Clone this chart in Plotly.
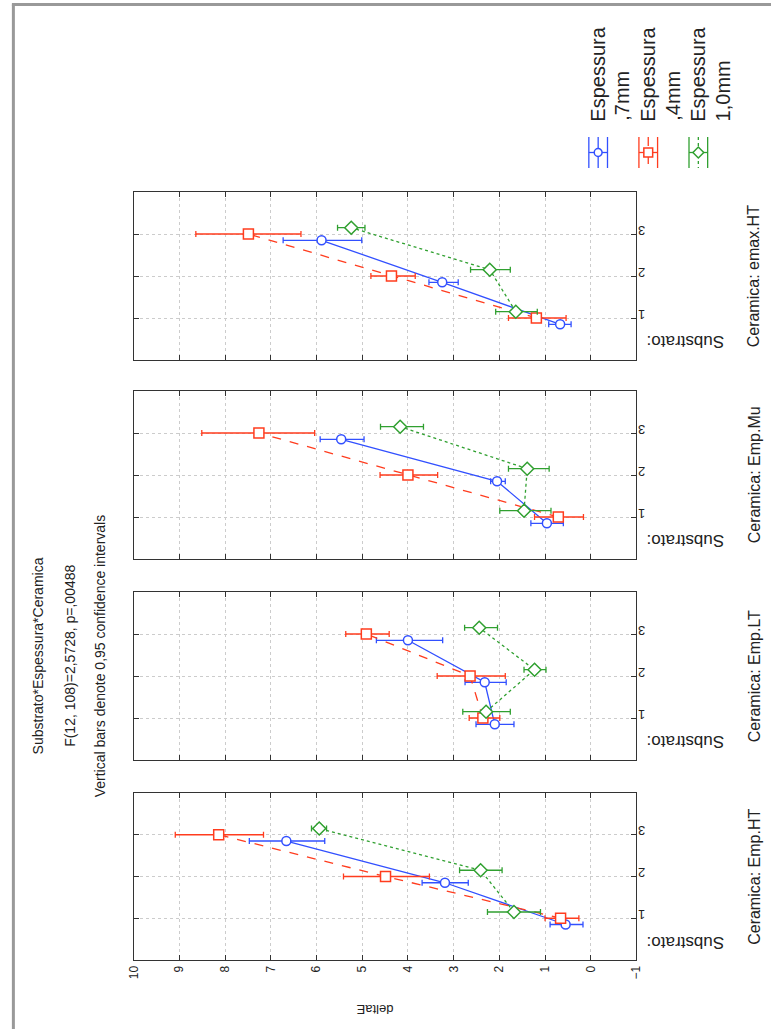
import plotly.graph_objects as go

W, H = 778, 1029


def px(x):
    return x / W


def py(y):
    return 1 - y / H


# ---------------- data ----------------
ceramicas = ["emax.HT", "Emp.Mu", "Emp.LT", "Emp.HT"]  # panels, top to bottom
substrato = [1, 2, 3]
value_ticks = [10, 9, 8, 7, 6, 5, 4, 3, 2, 1, 0, -1]
series_names = ["Espessura ,7mm", "Espessura ,4mm", "Espessura 1,0mm"]
legend_line1 = ["Espessura", "Espessura", "Espessura"]
legend_line2 = [",7mm", ",4mm", "1,0mm"]

# Espessura ,7mm (blue)
mean_7mm = [[0.67, 3.25, 5.89], [0.96, 2.05, 5.46], [2.10, 2.32, 4.00], [0.55, 3.19, 6.66]]
lo_7mm = [[0.43, 2.90, 5.01], [0.60, 1.87, 4.96], [1.68, 1.85, 3.24], [0.17, 2.68, 5.82]]
hi_7mm = [[0.92, 3.54, 6.73], [1.31, 2.19, 5.92], [2.51, 2.75, 4.69], [0.89, 3.69, 7.47]]

# Espessura ,4mm (red)
mean_4mm = [[1.19, 4.36, 7.49], [0.71, 4.00, 7.26], [2.36, 2.64, 4.91], [0.66, 4.49, 8.14]]
lo_4mm = [[0.54, 3.84, 6.34], [0.16, 3.35, 6.04], [1.99, 1.87, 4.41], [0.26, 3.53, 7.16]]
hi_4mm = [[1.80, 4.81, 8.64], [1.23, 4.61, 8.51], [2.66, 3.36, 5.36], [1.00, 5.41, 9.09]]

# Espessura 1,0mm (green)
mean_10mm = [[1.64, 2.21, 5.24], [1.46, 1.39, 4.17], [2.29, 1.23, 2.44], [1.68, 2.41, 5.94]]
lo_10mm = [[1.17, 1.76, 4.94], [0.87, 0.91, 3.66], [1.76, 0.98, 2.04], [1.10, 1.94, 5.78]]
hi_10mm = [[2.08, 2.63, 5.54], [1.99, 1.80, 4.60], [2.80, 1.46, 2.76], [2.26, 2.87, 6.11]]

# ---------------- style ----------------
colors = ["#3250ff", "#ff3c1e", "#30a030"]
dashes = ["solid", "dash", "dot"]
symbols = ["circle", "square", "diamond"]
msizes = [9, 10, 10]
offsets = [-0.15, 0.0, 0.15]
FONT = "Liberation Sans, Arial, sans-serif"
AXC = "#333333"
TXT = "#222222"
GRID = "#cccccc"

panel_px = [(192, 360), (391, 559), (592, 760), (793, 960)]
x_px = (129, 641)

means = [mean_7mm, mean_4mm, mean_10mm]
los = [lo_7mm, lo_4mm, lo_10mm]
his = [hi_7mm, hi_4mm, hi_10mm]

fig = go.Figure()


def note(text, x, y, angle, size, xanchor="center", yanchor="middle"):
    fig.add_annotation(text=text, textangle=angle, showarrow=False,
                       xref="paper", yref="paper", x=px(x), y=py(y),
                       xanchor=xanchor, yanchor=yanchor,
                       font=dict(family=FONT, size=size, color=TXT))


for p, cer in enumerate(ceramicas):
    ax = "" if p == 0 else str(p + 1)
    for s in range(3):
        m = means[s][p]
        lo = los[s][p]
        hi = his[s][p]
        fig.add_trace(go.Scatter(
            x=m,
            y=[c + offsets[s] for c in substrato],
            xaxis="x" + ax, yaxis="y" + ax,
            mode="lines+markers",
            name=series_names[s],
            showlegend=False,
            line=dict(color=colors[s], width=1.3, dash=dashes[s]),
            marker=dict(symbol=symbols[s], size=msizes[s], color="white",
                        line=dict(color=colors[s], width=1.5)),
            error_x=dict(type="data", symmetric=False,
                         array=[h - v for h, v in zip(hi, m)],
                         arrayminus=[v - l for v, l in zip(m, lo)],
                         color=colors[s], thickness=1.3, width=3),
        ))
    top, bot = panel_px[p]
    xa = dict(
        domain=[px(x_px[0]), px(x_px[1])],
        anchor="y" + ax,
        range=[10, -1],
        tickvals=value_ticks,
        showticklabels=(p == 3),
        tickangle=-90,
        ticks="inside", ticklen=5, tickcolor=AXC,
        showline=True, linecolor=AXC, linewidth=1.2, mirror="ticks",
        showgrid=True, gridcolor=GRID, griddash="dot", gridwidth=1,
        zeroline=False,
        tickfont=dict(family=FONT, size=12, color=TXT),
    )
    ya = dict(
        domain=[py(bot), py(top)],
        anchor="x" + ax,
        range=[0, 4],
        tickvals=substrato,
        ticktext=[str(v) for v in substrato],
        side="right",
        tickangle=180,
        ticklabelstandoff=5,
        ticks="inside", ticklen=5, tickcolor=AXC,
        showline=True, linecolor=AXC, linewidth=1.2, mirror="ticks",
        showgrid=True, gridcolor=GRID, griddash="dot", gridwidth=1,
        zeroline=False,
        tickfont=dict(family=FONT, size=13, color=TXT),
    )
    fig.layout["xaxis" + ax] = xa
    fig.layout["yaxis" + ax] = ya

    note("Substrato:", 691, top + 150, 180, 17)
    note("Ceramica: " + cer, 761, (top + bot) / 2, -90, 16)

# titles
titles = ["Substrato*Espessura*Ceramica",
          "F(12, 108)=2,5728, p=,00488",
          "Vertical bars denote 0,95 confidence intervals"]
for t, xc in zip(titles, [32, 64, 95]):
    note(t, xc, 656, -90, 14)

# axis title
note("deltaE", 375, 1010, 180, 13)

# legend (drawn manually, rotated)
shapes = []
leg_x = [602, 653, 704]
leg_x2 = [626, 678, 729]
for s in range(3):
    c = leg_x[s]
    col = colors[s]
    shapes.append(dict(type="line", xref="paper", yref="paper",
                       x0=px(c), x1=px(c), y0=py(137), y1=py(168),
                       line=dict(color=col, width=1.3, dash=dashes[s])))
    shapes.append(dict(type="line", xref="paper", yref="paper",
                       x0=px(c - 9.5), x1=px(c + 9.5), y0=py(152.5), y1=py(152.5),
                       line=dict(color=col, width=1.3)))
    for cx in (c - 9.5, c + 9.5):
        shapes.append(dict(type="line", xref="paper", yref="paper",
                           x0=px(cx), x1=px(cx), y0=py(137), y1=py(168),
                           line=dict(color=col, width=1.3)))
    if s == 0:
        shapes.append(dict(type="circle", xref="paper", yref="paper",
                           x0=px(c - 4), x1=px(c + 4), y0=py(148.5), y1=py(156.5),
                           fillcolor="white", line=dict(color=col, width=1.5)))
    elif s == 1:
        shapes.append(dict(type="rect", xref="paper", yref="paper",
                           x0=px(c - 4.5), x1=px(c + 4.5), y0=py(148), y1=py(157),
                           fillcolor="white", line=dict(color=col, width=1.5)))
    else:
        path = "M {} {} L {} {} L {} {} L {} {} Z".format(
            px(c - 5.5), py(152.5), px(c), py(147), px(c + 5.5), py(152.5), px(c), py(158))
        shapes.append(dict(type="path", xref="paper", yref="paper", path=path,
                           fillcolor="white", line=dict(color=col, width=1.5)))
    note(legend_line1[s], c, 124, -90, 20, yanchor="bottom")
    note(legend_line2[s], leg_x2[s], 123, -90, 20, yanchor="bottom")

# outer gray frame (left and top edges)
shapes.append(dict(type="line", xref="paper", yref="paper",
                   x0=px(6.5), x1=px(6.5), y0=py(4.5), y1=0,
                   line=dict(color="#999999", width=3)))
shapes.append(dict(type="line", xref="paper", yref="paper",
                   x0=px(5), x1=1, y0=py(4.5), y1=py(4.5),
                   line=dict(color="#999999", width=3)))

fig.update_layout(
    width=W, height=H,
    margin=dict(l=0, r=0, t=0, b=0),
    paper_bgcolor="white", plot_bgcolor="white",
    showlegend=False,
    hovermode=False,
    shapes=shapes,
    font=dict(family=FONT),
)

fig.write_html("out.html",
               config={"displayModeBar": False},
               post_script="document.body.style.margin='0';"
                           "document.body.style.overflow='hidden';")
